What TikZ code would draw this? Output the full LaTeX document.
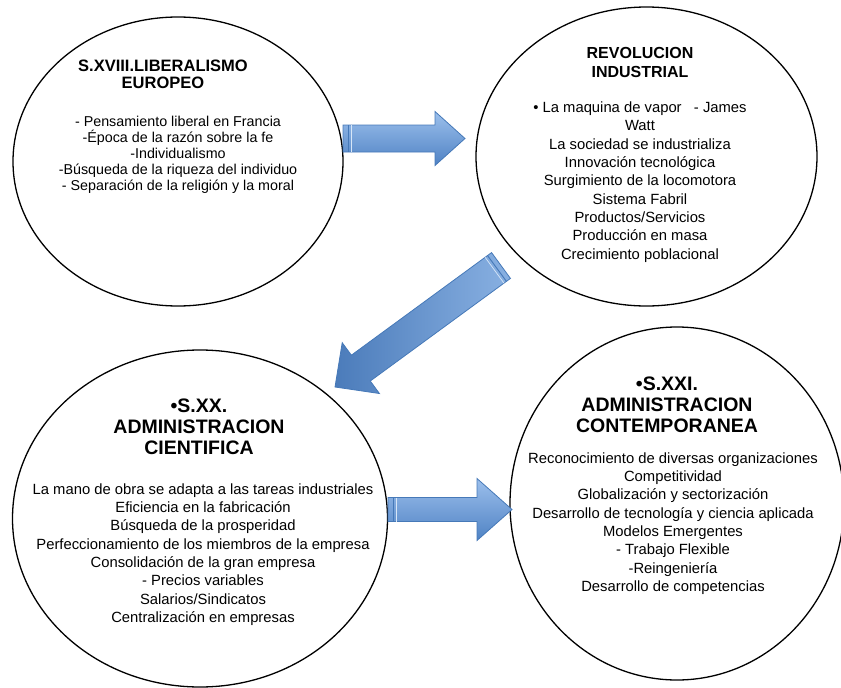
\documentclass[tikz,border=0pt]{standalone}
\usepackage{fontspec}
\setmainfont{Liberation Sans}
\usepackage{tikz}
\usetikzlibrary{calc}
\usetikzlibrary{shapes.geometric}
\usepackage{xcolor}
\definecolor{arrowlight}{HTML}{9CC0EC}
\definecolor{arrowdark}{HTML}{4F82C4}
\definecolor{arrowline}{HTML}{4679B8}

% block arrow: [style] tail, tip, shaft half width, head half width, head length
\newcommand{\blockarrow}[6][]{%
  \coordinate (hb) at ($(#3)!#6!(#2)$);
  \draw[arrowbody,#1] ($(#2)!#4!90:(#3)$) -- ($(hb)!#4!-90:(#2)$) -- ($(hb)!#5!-90:(#2)$)
     -- (#3) -- ($(hb)!#5!90:(#2)$) -- ($(hb)!#4!90:(#2)$) -- ($(#2)!#4!-90:(#3)$) -- cycle;
  \coordinate (s1) at ($(#2)!5pt!(#3)$);
  \coordinate (s2) at ($(#2)!8pt!(#3)$);
  \draw[arrowline, line width=.9pt] ($(s1)!#4!90:(#3)$) -- ($(s1)!#4!-90:(#3)$);
  \draw[white!60!arrowlight, line width=.7pt] ($(s2)!#4!90:(#3)$) -- ($(s2)!#4!-90:(#3)$);
}

\begin{document}
\begin{tikzpicture}[x=1pt,y=-1pt]
    \tikzstyle{era}=[draw, ellipse, line width=1.3pt, inner sep=0]
    \tikzstyle{heading}=[align=center, inner sep=0, font=\bfseries\fontsize{16.5}{17}\selectfont]
    \tikzstyle{bigheading}=[align=center, inner sep=0, font=\bfseries\fontsize{19.5}{21}\selectfont]
    \tikzstyle{items}=[align=center, inner sep=0, font=\fontsize{14.8}{18.3}\selectfont]
    \tikzstyle{arrowbody}=[draw=arrowline, line width=.8pt, line join=miter, top color=arrowlight, bottom color=arrowdark]
    \useasboundingbox (0,0) rectangle (841,688);

    % the four eras
    \node[era, minimum width=330, minimum height=289] (liberal) at (178,161.5) {};
    \node[era, minimum width=341, minimum height=299] (revol) at (646.5,156.5) {};
    \node[era, minimum width=375, minimum height=337] (cientif) at (200,518.5) {};
    \node[era, minimum width=334, minimum height=353] (contemp) at (677,503.5) {};

    % texts
    \node[heading] (liberalhead) at (163,74) {S.XVIII.LIBERALISMO\\EUROPEO};
    \node[items, font=\fontsize{14.3}{16.1}\selectfont] (liberaltext) at (178,155)
        {- Pensamiento liberal en Francia\\-Época de la razón sobre la fe\\-Individualismo\\-Búsqueda de la riqueza del individuo\\- Separación de la religión y la moral};
    \node[heading, font=\bfseries\fontsize{16}{19}\selectfont] (revolhead) at (640,62.5) {REVOLUCION\\INDUSTRIAL};
    \node[items] (revoltext) at (640,182)
        {• La maquina de vapor\ \ \ - James\\Watt\\La sociedad se industrializa\\Innovación tecnológica\\Surgimiento de la locomotora\\Sistema Fabril\\Productos/Servicios\\Producción en masa\\Crecimiento poblacional};
    \node[bigheading] (cientifhead) at (199,427) {•S.XX.\\ADMINISTRACION\\CIENTIFICA};
    \node[items] (cientiftext) at (203,554.5)
        {La mano de obra se adapta a las tareas industriales\\Eficiencia en la fabricación\\Búsqueda de la prosperidad\\Perfeccionamiento de los miembros de la empresa\\Consolidación de la gran empresa\\- Precios variables\\Salarios/Sindicatos\\Centralización en empresas};
    \node[bigheading] (contemphead) at (667,405) {•S.XXI.\\ADMINISTRACION\\CONTEMPORANEA};
    \node[items] (contemptext) at (673,523.5)
        {Reconocimiento de diversas organizaciones\\Competitividad\\Globalización y sectorización\\Desarrollo de tecnología y ciencia aplicada\\Modelos Emergentes\\- Trabajo Flexible\\-Reingeniería\\Desarrollo de competencias};

    % arrows between the eras
    \coordinate (a1s) at (343,138.5);
    \coordinate (a1e) at (465,138.5);
    \coordinate (a2s) at (501,265.5);
    \coordinate (a2e) at (335,387);
    \coordinate (a3s) at (388,509.5);
    \coordinate (a3e) at (512,509.5);
    \blockarrow{a1s}{a1e}{13.5pt}{27pt}{30pt}
    \blockarrow[left color=arrowdark!95!black, right color=arrowlight!75!arrowdark]{a2s}{a2e}{16pt}{31.5pt}{32pt}
    \blockarrow{a3s}{a3e}{12pt}{31pt}{35pt}
\end{tikzpicture}
\end{document}
